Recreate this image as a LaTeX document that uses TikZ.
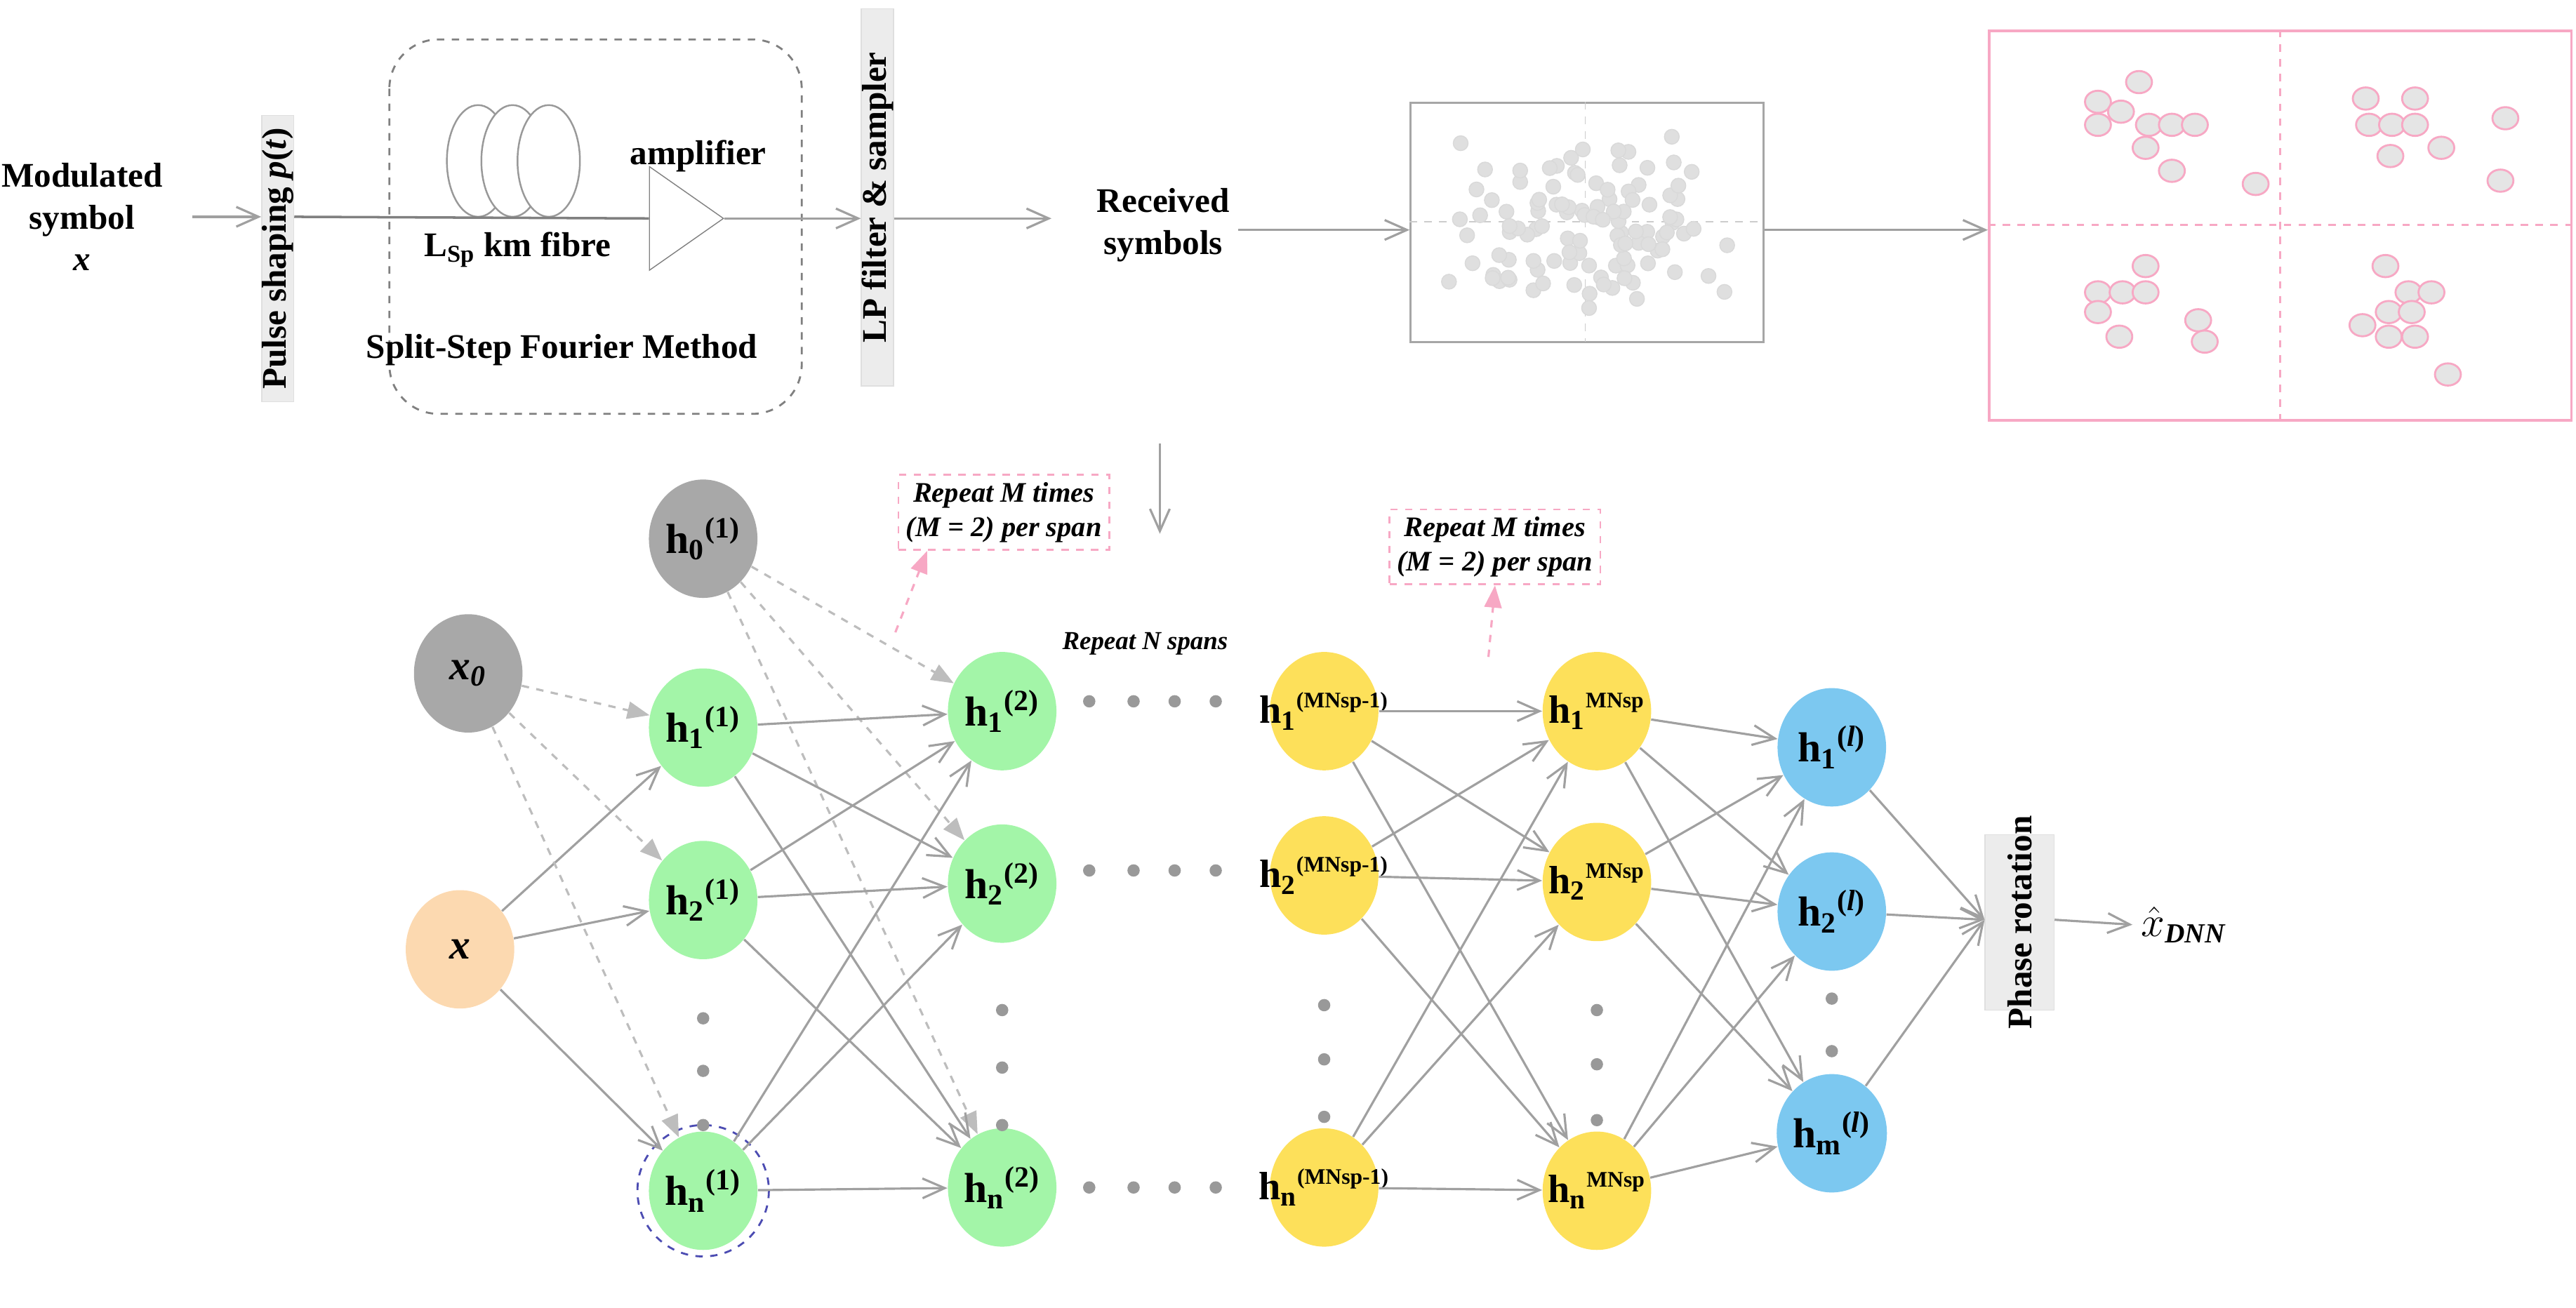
\documentclass[tikz,border=0pt]{standalone}
\usepackage{fontspec}
\setmainfont{Liberation Serif}
\usetikzlibrary{arrows.meta,shapes.geometric}
\definecolor{gn}{HTML}{A3F5A8}
\definecolor{yl}{HTML}{FDE05A}
\definecolor{bl}{HTML}{7CC8F0}
\definecolor{gy}{HTML}{A8A8A8}
\definecolor{org}{HTML}{FCD9B0}
\definecolor{pk}{HTML}{F7A8C4}
\definecolor{ln}{HTML}{A0A0A0}
\begin{document}
\begin{tikzpicture}[x=0.0234cm,y=-0.0234cm,
 txt/.style={font=\fontsize{14}{17}\selectfont\bfseries,align=center},
 neu/.style={ellipse,minimum width=44pt,minimum height=48pt,inner sep=0,font=\fontsize{17}{20}\selectfont\bfseries},
 ng/.style={neu,fill=gn}, ny/.style={neu,fill=yl}, nb/.style={neu,fill=bl},
 lab/.style={font=\fontsize{16}{20}\selectfont\bfseries,inner sep=0},
 arr/.style={draw=ln,line width=0.9pt,-{Straight Barb[length=9pt,width=8pt]}},
 darr/.style={draw=ln!70,line width=0.9pt,dashed,-{Triangle[length=9pt,width=7pt]}},
 vbox/.style={fill=gray!15,draw=gray!25,minimum width=13pt,inner sep=0},
 dot/.style={circle,fill=gray!80,inner sep=0,minimum size=5pt},
 rep/.style={draw=pk,dashed,line width=0.8pt,inner sep=3pt,align=center,font=\fontsize{11.5}{14}\selectfont\bfseries\itshape},
 sp/.style={circle,fill=gray!25,draw=gray!30,inner sep=0,minimum size=6pt},
 pp/.style={ellipse,fill=gray!20,draw=pk,line width=0.8pt,inner sep=0,minimum width=10.5pt,minimum height=9pt}]
\useasboundingbox (0,0) rectangle (1568,796);
% top chain
\node[txt] (mod) at (50,132) {Modulated\\symbol\\\textit{x}};
\node[vbox,minimum height=116pt,anchor=north west] (ps) at (159,70) {};
\node[rotate=90,font=\fontsize{14}{17}\selectfont\bfseries] at (ps.center) {Pulse shaping \textit{p}(\textit{t})};
\draw[arr] (117,132) -- (ps.west|-0,132);
\draw[gray,dashed,line width=0.8pt,rounded corners=20pt] (237,24) rectangle (488,252);
\foreach \cx in {291,312,334} \draw[gray!80,line width=0.7pt,fill=white] (\cx,98) ellipse (19 and 34);
\node[isosceles triangle,draw=gray,minimum height=30pt,minimum width=40pt,inner sep=0,isosceles triangle apex angle=70,anchor=west] (amp) at (395,133) {};
\draw[gray,line width=1pt] (ps.east|-0,132) -- (amp.west);
\node[vbox,minimum height=153pt,anchor=north west] (lp) at (524,5) {};
\node[rotate=90,font=\fontsize{14}{17}\selectfont\bfseries] at (lp.center) {LP filter \& sampler};
\draw[arr] (amp.apex) -- (lp.west|-0,133);
\node[txt] at (425,95) {amplifier};
\node[txt] at (315,152) {L\textsubscript{Sp} km fibre};
\node[txt] at (342,213) {Split-Step Fourier Method};
\node[txt] (rec) at (708,137) {Received\\symbols};
\draw[arr] (lp.east|-0,133) -- (640,133);
\node[draw=gray!70,line width=0.8pt,minimum width=143pt,minimum height=97pt,inner sep=0,anchor=north west] (sc) at (858,62) {};
\draw[gray!40,dashed] (965,62) -- (965,208) (858,135) -- (1073,135);
\draw[arr] (rec.east|-0,140) -- (sc.west|-0,140);
\pgfmathsetseed{11}
\foreach \i in {1,...,110}{
 \pgfmathsetmacro\px{965+55*rand+40*rand}
 \pgfmathsetmacro\py{135+35*rand+27*rand}
 \node[sp] at (\px,\py) {};}
\node[draw=pk,line width=1pt,minimum width=236pt,minimum height=158pt,inner sep=0,anchor=north west] (co) at (1210,18) {};
\draw[pk,dashed,line width=0.8pt] (1388,18) -- (1388,255) (1210,137) -- (1565,137);
\draw[arr] (sc.east|-0,140) -- (co.west|-0,140);
\foreach \p in {(1277,62),(1277,76),(1302,50),(1291,68),(1308,76),(1322,76),(1336,76),(1306,90),(1322,104),(1373,112),
 (1440,60),(1442,76),(1456,76),(1470,76),(1470,60),(1455,95),(1486,90),(1525,72),(1522,110),
 (1306,162),(1277,178),(1292,178),(1306,178),(1277,190),(1290,205),(1338,195),(1342,208),
 (1452,162),(1466,178),(1438,198),(1454,190),(1468,190),(1454,205),(1470,205),(1480,178),(1490,228)}
 \node[pp] at \p {};
\coordinate (dn1) at (706,270); \coordinate (dn2) at (706,325);
\draw[arr] (dn1) -- (dn2);
% network
\node[neu,fill=gy] (x0) at (285,410) {\textit{x}\textsubscript{\textit{0}}};
\node[neu,fill=gy] (h0) at (428,328) {h\textsubscript{0}\textsuperscript{(1)}};
\node[neu,fill=org] (x) at (280,578) {\textit{x}};
\node[ng] (a1) at (428,443) {h\textsubscript{1}\textsuperscript{(1)}};
\node[ng] (a2) at (428,548) {h\textsubscript{2}\textsuperscript{(1)}};
\node[ng] (an) at (428,725) {h\textsubscript{n}\textsuperscript{(1)}};
\node[ng] (b1) at (610,433) {h\textsubscript{1}\textsuperscript{(2)}};
\node[ng] (b2) at (610,538) {h\textsubscript{2}\textsuperscript{(2)}};
\node[ng] (bn) at (610,723) {h\textsubscript{n}\textsuperscript{(2)}};
\node[ny,label={[lab]center:h\textsubscript{1}\textsuperscript{\fontsize{9}{9}\selectfont(MNsp-1)}}] (c1) at (806,433) {};
\node[ny,label={[lab]center:h\textsubscript{2}\textsuperscript{\fontsize{9}{9}\selectfont(MNsp-1)}}] (c2) at (806,533) {};
\node[ny,label={[lab]center:h\textsubscript{n}\textsuperscript{\fontsize{9}{9}\selectfont(MNsp-1)}}] (cn) at (806,723) {};
\node[ny,label={[lab]center:h\textsubscript{1}\textsuperscript{\fontsize{9}{9}\selectfont MNsp}}] (d1) at (972,433) {};
\node[ny,label={[lab]center:h\textsubscript{2}\textsuperscript{\fontsize{9}{9}\selectfont MNsp}}] (d2) at (972,537) {};
\node[ny,label={[lab]center:h\textsubscript{n}\textsuperscript{\fontsize{9}{9}\selectfont MNsp}}] (dn) at (972,725) {};
\node[nb] (e1) at (1115,455) {h\textsubscript{1}\textsuperscript{(\textit{l})}};
\node[nb] (e2) at (1115,555) {h\textsubscript{2}\textsuperscript{(\textit{l})}};
\node[nb] (em) at (1115,690) {h\textsubscript{m}\textsuperscript{(\textit{l})}};
\draw[draw=blue!40!gray,dashed,line width=0.8pt] (an) circle (40);
\foreach \xx/\ys in {428/{620,652,685},610/{615,650,685},806/{612,645,680},972/{615,648,682},1115/{608,640}}
 \foreach \yy in \ys \node[dot] at (\xx,\yy) {};
\foreach \yy in {427,530,723} \foreach \xx in {663,690,715,740} \node[dot] at (\xx,\yy) {};
\node[vbox,minimum width=28pt,minimum height=71pt,anchor=north west] (ph) at (1208,508) {};
\node[rotate=90,font=\fontsize{14}{17}\selectfont\bfseries] at (ph.center) {Phase rotation};
\node[font=\fontsize{16}{19}\selectfont\bfseries\itshape,anchor=west] (xh) at (1298,563) {$\hat{x}$\textsubscript{DNN}};
\draw[arr] (ph.east|-0,560) -- (xh.west);
\foreach \t in {a1,a2,an} {\draw[darr] (x0) -- (\t); \draw[arr] (x) -- (\t);}
\foreach \t in {b1,b2,bn} \draw[darr] (h0) -- (\t);
\foreach \s in {a1,a2,an} \foreach \t in {b1,b2,bn} \draw[arr] (\s) -- (\t);
\foreach \s in {c1,c2,cn} \foreach \t in {d1,d2,dn} \draw[arr] (\s) -- (\t);
\foreach \s in {d1,d2,dn} \foreach \t in {e1,e2,em} \draw[arr] (\s) -- (\t);
\foreach \s in {e1,e2,em} \draw[arr] (\s) -- (ph.west|-0,560);
\node[rep] (r1) at (611,312) {Repeat M times\\(M = 2) per span};
\node[rep] (r2) at (910,333) {Repeat M times\\(M = 2) per span};
\coordinate (p1) at (545,385); \coordinate (p2) at (906,400);
\draw[pk,dashed,line width=0.9pt,-{Triangle[length=9pt,width=7pt]}] (p1) -- ([xshift=12pt]r1.south west);
\draw[pk,dashed,line width=0.9pt,-{Triangle[length=9pt,width=7pt]}] (p2) -- (r2.south);
\node[font=\fontsize{10.5}{12}\selectfont\bfseries\itshape] at (697,392) {Repeat N spans};
\end{tikzpicture}
\end{document}
